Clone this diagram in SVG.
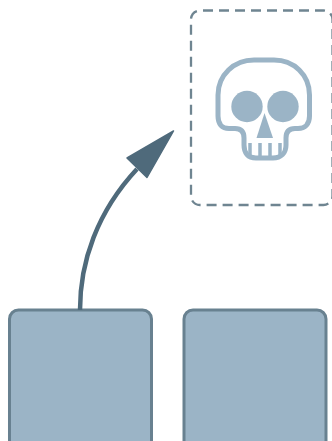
<svg xmlns="http://www.w3.org/2000/svg" width="332" height="441" viewBox="0 0 332 441">
<style>
.box{fill:#9bb4c6;stroke:#688190;stroke-width:3}
.sk{fill:none;stroke:#9bb4c6;stroke-width:5;stroke-linejoin:round}
.skf{fill:#9bb4c6}
</style>
<rect width="332" height="441" fill="#fff"/>
<g id="box-1"><rect class="box" x="9.500" y="310" width="142" height="150" rx="9"/></g>
<g id="box-2"><rect class="box" x="184" y="310" width="142" height="150" rx="9"/></g>
<g id="dashed-zone"><rect x="191" y="10.500" width="141.500" height="194.500" rx="9" fill="none" stroke="#6f8591" stroke-width="2.300" stroke-dasharray="10 6" stroke-dashoffset="-3"/></g>
<g id="skull">
<path class="sk" d="M254 60H274C294 60 309.500 75 309.500 95V116C309.500 124 305 128.500 298 128.500H295C289 128.500 286 132 286 138V145C286 153 281 158 273 158H256C248 158 244 153 244 145V138C244 132 241 128.500 235 128.500H229C222 128.500 218 124 218 116V95C218 75 234 60 254 60Z"/>
<circle class="skf" cx="247" cy="106.500" r="15.700"/>
<circle class="skf" cx="283" cy="106.500" r="15.700"/>
<path class="skf" d="M264.500 113L273 138H256.500Z"/>
<path class="sk" style="stroke-width:3.500" d="M250 143V156M260 143V156M270 143V156M280 143V156"/>
</g>
<g id="connectors">
<path d="M80 310C80 262 97 212 137 169" fill="none" stroke="#4f6a7b" stroke-width="4.500"/>
<path d="M173.500 131L147 177.500L127 158Z" fill="#4f6a7b" stroke="#4f6a7b" stroke-width="1.500" stroke-linejoin="round"/>
</g>
</svg>
